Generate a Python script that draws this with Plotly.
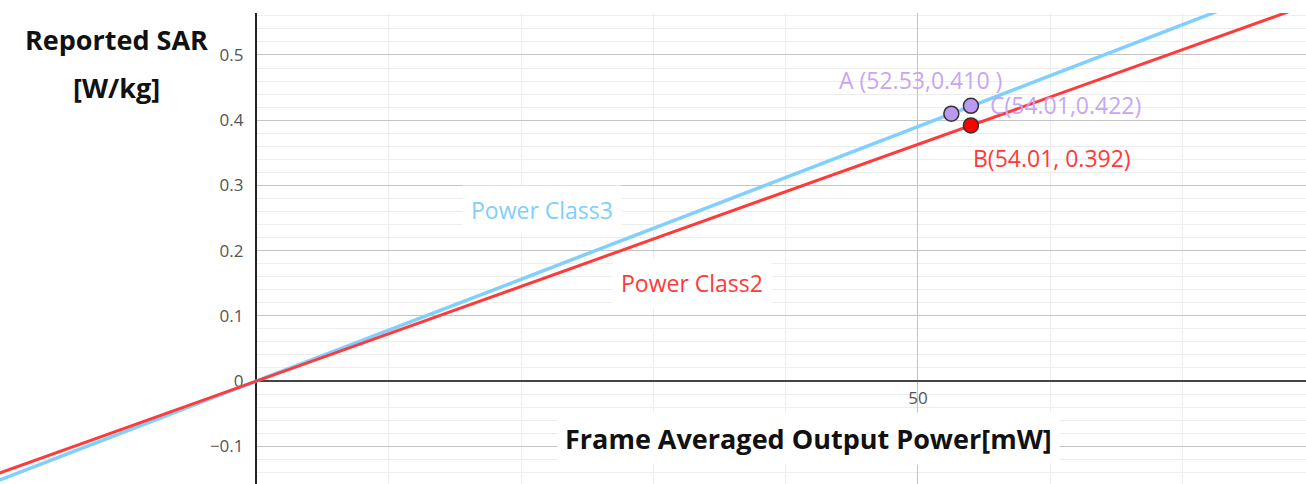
import plotly.graph_objects as go

# ---- data ----
point_labels = ["A", "B", "C"]
point_power = [52.53, 54.01, 54.01]      # mW
point_sar = [0.410, 0.392, 0.422]        # W/kg
point_texts = ["A (52.53,0.410 )", "B(54.01, 0.392)", "C(54.01,0.422)"]
line_names = ["Power Class3", "Power Class2"]
line_power = [-20, 0, 80]                # mW, extent of the drawn lines
y_ticks = [-0.1, 0, 0.1, 0.2, 0.3, 0.4, 0.5]
x_ticks = [50]

# slopes from the marked points (class3 through A, class2 through B)
slope3 = point_sar[0] / point_power[0]
slope2 = point_sar[1] / point_power[1]
sar3 = [slope3 * p for p in line_power]
sar2 = [slope2 * p for p in line_power]

BLUE = "#80cffc"
RED = "#ff3a3a"
PURPLE = "#b99af0"
PURPLE_TXT = "#c7a6f4"
FONT = "Open Sans"

XMIN, XMAX = -19.41, 79.35
YMIN, YMAX = -0.158, 0.5644
split = -XMIN / (XMAX - XMIN)

fig = go.Figure()
for xa, ya in (("x", "y"), ("x2", "y2")):
    fig.add_trace(go.Scatter(x=line_power, y=sar3, mode="lines", xaxis=xa, yaxis=ya,
                             line=dict(color=BLUE, width=3.5), name=line_names[0],
                             showlegend=False, hoverinfo="skip"))
    fig.add_trace(go.Scatter(x=line_power, y=sar2, mode="lines", xaxis=xa, yaxis=ya,
                             line=dict(color=RED, width=3), name=line_names[1],
                             showlegend=False, hoverinfo="skip"))

marker_colors = [PURPLE, "#ff0000", PURPLE]
fig.add_trace(go.Scatter(x=point_power, y=point_sar, mode="markers",
                         marker=dict(size=15, color=marker_colors,
                                     line=dict(color="#333333", width=1.5)),
                         showlegend=False, text=point_labels))

LBL = 23
TTL = 27
annotations = [
    dict(text=point_texts[0], x=50.23, y=0.4617, xref="x", yref="y", xanchor="center",
         showarrow=False, font=dict(family=FONT, size=LBL, color=PURPLE_TXT)),
    dict(text=point_texts[2], x=55.30, y=0.4233, xref="x", yref="y", xanchor="left",
         showarrow=False, font=dict(family=FONT, size=LBL, color=PURPLE_TXT)),
    dict(text=point_texts[1], x=54.0, y=0.342, xref="x", yref="y", xanchor="left",
         showarrow=False, font=dict(family=FONT, size=LBL, color=RED)),
    dict(text=line_names[0], x=21.6, y=0.2615, xref="x", yref="y", xanchor="center",
         showarrow=False, bgcolor="white", borderpad=8,
         font=dict(family=FONT, size=LBL, color=BLUE)),
    dict(text=line_names[1], x=32.9, y=0.1503, xref="x", yref="y", xanchor="center",
         showarrow=False, bgcolor="white", borderpad=8,
         font=dict(family=FONT, size=LBL, color=RED)),
    dict(text="<b>Frame Averaged Output Power[mW]</b>", x=41.7, y=-0.088, xref="x", yref="y",
         xanchor="center", showarrow=False, bgcolor="white", borderpad=7,
         font=dict(family=FONT, size=TTL, color="#111111")),
    dict(text="<b>Reported SAR</b>", x=116 / 1306, y=1 - (40 - 13) / 471,
         xref="paper", yref="paper", xanchor="center", yanchor="middle",
         showarrow=False, font=dict(family=FONT, size=TTL, color="#111111")),
    dict(text="<b>[W/kg]</b>", x=116 / 1306, y=1 - (88 - 13) / 471,
         xref="paper", yref="paper", xanchor="center", yanchor="middle",
         showarrow=False, font=dict(family=FONT, size=TTL, color="#111111")),
]

fig.update_layout(
    width=1306, height=484, autosize=False,
    margin=dict(l=0, r=0, t=13, b=0, pad=0),
    paper_bgcolor="white", plot_bgcolor="white",
    font=dict(family=FONT),
    annotations=annotations,
    xaxis=dict(domain=[split, 1], range=[0, XMAX], anchor="free",
               position=(0 - YMIN) / (YMAX - YMIN),
               tickmode="array", tickvals=x_ticks, ticks="outside", ticklen=2,
               tickcolor="rgba(0,0,0,0)",
               tickfont=dict(size=17, color="#555555"),
               showgrid=True, gridcolor="#c4c4c4", gridwidth=1,
               minor=dict(tickmode="linear", tick0=0, dtick=10, showgrid=True,
                          gridcolor="#ededed", gridwidth=1),
               zeroline=False, showline=False, fixedrange=True),
    yaxis=dict(domain=[0, 1], range=[YMIN, YMAX], anchor="x",
               tickmode="array", tickvals=y_ticks, ticks="outside", ticklen=8,
               tickcolor="rgba(0,0,0,0)",
               tickfont=dict(size=17, color="#555555"),
               showgrid=True, gridcolor="#c4c4c4", gridwidth=1,
               minor=dict(tickmode="linear", tick0=0, dtick=0.02, showgrid=True,
                          gridcolor="#ededed", gridwidth=1),
               zeroline=True, zerolinecolor="#444444", zerolinewidth=1.5,
               showline=True, linecolor="#222222", linewidth=1.5,
               automargin=False, fixedrange=True),
    xaxis2=dict(domain=[0, split], range=[XMIN, 0], anchor="y2", visible=False),
    yaxis2=dict(domain=[0, 1], range=[YMIN, YMAX], anchor="x2", visible=False),
)

fig.write_html("out.html", config={"displayModeBar": False},
               post_script="document.body.style.margin='0';document.body.style.padding='0';")
